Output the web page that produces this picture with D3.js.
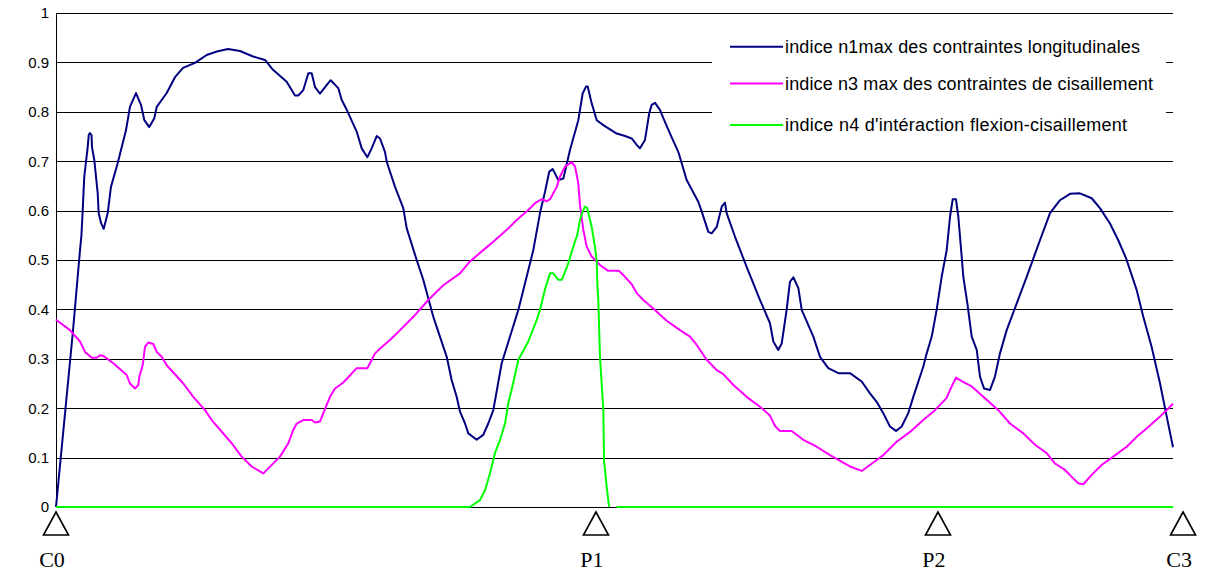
<!DOCTYPE html>
<html>
<head>
<meta charset="utf-8">
<script src="https://cdn.jsdelivr.net/npm/d3@7"></script>
<style>
  body { margin: 0; background: #fff; }
</style>
</head>
<body>
<div id="chart"></div>
<script>
// abscisse le long de l'ouvrage (0 = C0, 100 = fin de la courbe)
var n1X = [0, 1.50, 2.15, 2.28, 2.39, 2.53, 2.84, 2.93, 3.04, 3.18, 3.22, 3.43, 3.73, 3.82, 4.03, 4.27, 4.63, 4.92, 5.52, 6.27,
  6.62, 7.16, 7.61, 7.91, 8.35, 8.80, 9.02, 9.91, 10.65, 11.37, 12.44, 13.49, 14.39, 15.40, 16.47, 17.64, 18.71, 19.43, 20.65, 21.40,
  21.69, 22.14, 22.59, 22.89, 23.19, 23.63, 24.23, 24.59, 25.27, 25.58, 26.03, 26.92, 27.37, 27.87, 28.26, 28.71, 29.01, 29.45, 29.61, 30.35,
  31.09, 31.40, 32.29, 32.88, 33.78, 34.98, 35.42, 35.87, 36.17, 36.62, 36.91, 37.66, 38.25, 38.70, 39.15, 39.90, 41.39, 42.73, 43.33, 43.78,
  44.16, 44.47, 44.97, 45.42, 46.02, 46.76, 47.15, 47.45, 47.60, 47.96, 48.41, 49.00, 50.20, 50.94, 51.54, 51.99, 52.28, 52.73, 53.11, 53.33,
  53.63, 54.07, 54.37, 54.97, 55.71, 56.46, 57.50, 57.81, 58.40, 58.70, 59.15, 59.60, 59.89, 60.04, 60.79, 61.83, 63.03, 63.92, 64.22, 64.66,
  64.97, 65.41, 65.71, 66.01, 66.46, 66.76, 67.80, 68.40, 69.14, 70.04, 71.08, 72.13, 72.87, 73.47, 74.06, 74.66, 75.20, 75.71, 76.30, 76.75,
  77.64, 77.95, 78.40, 78.84, 79.29, 79.74, 80.04, 80.28, 80.57, 80.78, 81.07, 81.23, 81.59, 81.98, 82.43, 82.72, 83.08, 83.62, 84.06, 84.51,
  85.11, 86.01, 86.90, 88.09, 88.99, 89.88, 90.78, 91.67, 92.72, 93.46, 94.36, 95.10, 95.79, 96.75, 97.34, 98.09, 98.84, 99.44, 100];
var n1Y = [0, 0.352, 0.520, 0.551, 0.601, 0.668, 0.729, 0.753, 0.757, 0.753, 0.729, 0.702, 0.636, 0.595, 0.575, 0.563, 0.595, 0.648, 0.696, 0.763,
  0.810, 0.838, 0.814, 0.783, 0.769, 0.787, 0.810, 0.838, 0.870, 0.889, 0.899, 0.915, 0.922, 0.927, 0.923, 0.912, 0.905, 0.885, 0.861, 0.833,
  0.833, 0.844, 0.878, 0.878, 0.850, 0.837, 0.854, 0.864, 0.848, 0.824, 0.804, 0.760, 0.726, 0.708, 0.726, 0.751, 0.746, 0.719, 0.699, 0.648,
  0.605, 0.564, 0.500, 0.460, 0.385, 0.304, 0.257, 0.223, 0.193, 0.169, 0.149, 0.136, 0.146, 0.169, 0.196, 0.291, 0.399, 0.520, 0.595, 0.638,
  0.679, 0.684, 0.662, 0.665, 0.723, 0.783, 0.837, 0.851, 0.851, 0.817, 0.783, 0.773, 0.756, 0.751, 0.746, 0.733, 0.726, 0.743, 0.797, 0.814,
  0.818, 0.804, 0.787, 0.756, 0.719, 0.662, 0.618, 0.598, 0.557, 0.554, 0.567, 0.608, 0.616, 0.595, 0.547, 0.486, 0.419, 0.372, 0.335, 0.318,
  0.331, 0.399, 0.456, 0.465, 0.443, 0.399, 0.345, 0.304, 0.281, 0.271, 0.271, 0.254, 0.230, 0.213, 0.190, 0.163, 0.154, 0.163, 0.190, 0.223,
  0.284, 0.311, 0.345, 0.399, 0.466, 0.520, 0.588, 0.623, 0.623, 0.588, 0.510, 0.466, 0.412, 0.345, 0.318, 0.264, 0.240, 0.237, 0.264, 0.311,
  0.358, 0.412, 0.466, 0.540, 0.595, 0.621, 0.634, 0.635, 0.625, 0.605, 0.574, 0.540, 0.504, 0.439, 0.385, 0.324, 0.250, 0.183, 0.121];

var n3X = [0, 1.25, 2.15, 2.60, 3.20, 3.64, 3.94, 4.23, 5.13, 6.33, 6.62, 7.07, 7.37, 7.46, 7.76, 7.97, 8.26, 8.71, 9.02, 9.46,
  9.91, 11.40, 12.29, 13.34, 13.94, 15.73, 16.62, 17.52, 18.56, 20.05, 20.80, 21.24, 21.55, 22.14, 22.89, 23.19, 23.63, 23.93, 24.53, 24.98,
  25.72, 26.92, 27.87, 28.11, 28.56, 29.01, 29.90, 30.80, 31.99, 33.33, 34.67, 36.17, 37.06, 38.25, 39.15, 40.35, 41.24, 42.28, 42.88, 43.48,
  43.93, 44.23, 44.83, 45.12, 45.57, 46.17, 46.47, 46.76, 46.91, 47.21, 47.51, 47.96, 48.70, 49.44, 50.40, 50.94, 51.54, 51.99, 52.58, 53.47,
  54.67, 55.86, 56.76, 57.36, 58.25, 59.15, 59.74, 60.64, 61.83, 63.03, 63.92, 64.37, 64.82, 65.86, 66.90, 68.10, 69.29, 71.08, 72.13, 73.17,
  74.06, 75.26, 76.46, 77.64, 78.69, 79.74, 80.04, 80.57, 81.08, 81.98, 83.32, 84.36, 85.41, 86.60, 87.65, 88.69, 89.44, 90.33, 90.93, 91.52,
  91.97, 92.72, 93.61, 94.65, 95.85, 96.75, 97.64, 98.84, 100];
var n3Y = [0.379, 0.358, 0.335, 0.314, 0.302, 0.302, 0.307, 0.306, 0.291, 0.267, 0.250, 0.240, 0.247, 0.264, 0.287, 0.324, 0.333, 0.330, 0.314, 0.304,
  0.287, 0.250, 0.223, 0.196, 0.176, 0.129, 0.102, 0.082, 0.068, 0.102, 0.129, 0.156, 0.169, 0.176, 0.176, 0.171, 0.173, 0.190, 0.223, 0.240,
  0.252, 0.281, 0.281, 0.291, 0.311, 0.321, 0.338, 0.358, 0.385, 0.419, 0.449, 0.473, 0.497, 0.520, 0.537, 0.561, 0.581, 0.601, 0.615, 0.623,
  0.619, 0.623, 0.648, 0.669, 0.689, 0.698, 0.689, 0.655, 0.611, 0.561, 0.527, 0.507, 0.490, 0.478, 0.478, 0.466, 0.451, 0.433, 0.419, 0.402,
  0.377, 0.358, 0.345, 0.328, 0.298, 0.277, 0.269, 0.247, 0.223, 0.203, 0.185, 0.164, 0.154, 0.154, 0.136, 0.122, 0.105, 0.082, 0.073, 0.090,
  0.105, 0.132, 0.152, 0.176, 0.196, 0.221, 0.237, 0.262, 0.255, 0.244, 0.217, 0.196, 0.169, 0.149, 0.126, 0.109, 0.088, 0.075, 0.061, 0.048,
  0.046, 0.065, 0.085, 0.102, 0.122, 0.142, 0.159, 0.183, 0.209];

var n4X = [0, 37.06, 37.96, 38.41, 38.85, 39.30, 39.75, 40.20, 40.49, 40.89, 41.39, 42.28, 43.04, 43.33, 43.78, 44.23, 44.52, 44.97, 45.30, 45.86,
  46.17, 46.67, 46.91, 47.15, 47.36, 47.56, 47.74, 47.96, 48.25, 48.41, 48.46, 48.55, 48.70, 49.00, 49.06, 49.30, 49.44, 49.53, 49.85, 50.20, 100];
var n4Y = [0, 0, 0.014, 0.034, 0.068, 0.109, 0.136, 0.169, 0.210, 0.247, 0.298, 0.335, 0.379, 0.399, 0.441, 0.473, 0.473, 0.460, 0.460, 0.493,
  0.517, 0.551, 0.581, 0.598, 0.608, 0.605, 0.588, 0.567, 0.527, 0.497, 0.453, 0.419, 0.304, 0.196, 0.095, 0.041, 0.014, 0, null, 0, 0];

var seriesNames = ["indice n1max des contraintes longitudinales", "indice n3 max des contraintes de cisaillement", "indice n4 d'intéraction flexion-cisaillement"];
var seriesColors = ["#000080", "#ff00ff", "#00ff00"];

// appuis
var supportNames = ["C0", "P1", "P2", "C3"];
var supportX = [0, 48.34, 78.96, 100.9];

var yTicks = [0, 0.1, 0.2, 0.3, 0.4, 0.5, 0.6, 0.7, 0.8, 0.9, 1];

var margin = {top: 13, right: 34, bottom: 64, left: 56},
  width = 1207 - margin.left - margin.right,
  height = 571 - margin.top - margin.bottom;

var svg = d3.select("#chart")
  .append("svg")
  .attr("width", 1207)
  .attr("height", 571)
  .append("g")
  .attr("transform", "translate(" + margin.left + "," + margin.top + ")");

var x = d3.scaleLinear()
  .domain([0, 100])
  .range([0, width]);
var y = d3.scaleLinear()
  .domain([0, 1])
  .range([height, 0]);

// grille + axe vertical
var yAxis = svg.append("g")
  .call(d3.axisLeft(y)
    .tickValues(yTicks)
    .tickSize(-width)
    .tickPadding(7)
    .tickFormat(function(d) { return String(+d.toFixed(1)); }));
yAxis.select(".domain").attr("stroke", "#000").attr("d", "M0.5,0V" + height);
yAxis.selectAll(".tick line").attr("stroke", "#000").attr("shape-rendering", "crispEdges");
yAxis.selectAll(".tick text")
  .style("font-family", "Liberation Sans, Arial, sans-serif")
  .style("font-size", "15px")
  .attr("fill", "#000");

// legende (fond blanc sur la grille)
var legend = svg.append("g");
legend.append("rect")
  .attr("x", 656)
  .attr("y", 12)
  .attr("width", 454)
  .attr("height", 125)
  .attr("fill", "#fff");
var legendWidths = [355, 368, 342];
seriesNames.forEach(function(name, i) {
  var ly = [33.7, 70.5, 112][i];
  legend.append("line")
    .attr("x1", 674).attr("x2", 727)
    .attr("y1", ly).attr("y2", ly)
    .attr("stroke", seriesColors[i])
    .attr("stroke-width", 2);
  legend.append("text")
    .attr("x", 729)
    .attr("y", ly)
    .attr("dy", "0.35em")
    .attr("textLength", legendWidths[i])
    .attr("lengthAdjust", "spacing")
    .style("font-family", "Liberation Sans, Arial, sans-serif")
    .style("font-size", "18px")
    .text(name);
});

// courbes
var series = [[n1X, n1Y], [n3X, n3Y], [n4X, n4Y]];
var line = d3.line()
  .defined(function(d) { return d[1] !== null; })
  .x(function(d) { return x(d[0]); })
  .y(function(d) { return y(d[1]); });
series.forEach(function(s, i) {
  var pts = s[0].map(function(v, j) { return [v, s[1][j]]; });
  svg.append("path")
    .datum(pts)
    .attr("fill", "none")
    .attr("stroke", seriesColors[i])
    .attr("stroke-width", 2)
    .attr("stroke-linejoin", "round")
    .attr("d", line);
});

// triangles des appuis
var tri = svg.append("g");
supportX.forEach(function(sx, i) {
  var cx = x(sx);
  tri.append("path")
    .attr("d", "M" + cx + "," + (height + 5) + "L" + (cx - 12.5) + "," + (height + 28) + "L" + (cx + 12.5) + "," + (height + 28) + "Z")
    .attr("fill", "#fff")
    .attr("stroke", "#000")
    .attr("stroke-width", 1.6);
  tri.append("text")
    .attr("x", cx - 4)
    .attr("y", height + 60)
    .attr("text-anchor", "middle")
    .style("font-family", "Liberation Serif, Times New Roman, serif")
    .style("font-size", "22px")
    .text(supportNames[i]);
});
</script>
</body>
</html>
